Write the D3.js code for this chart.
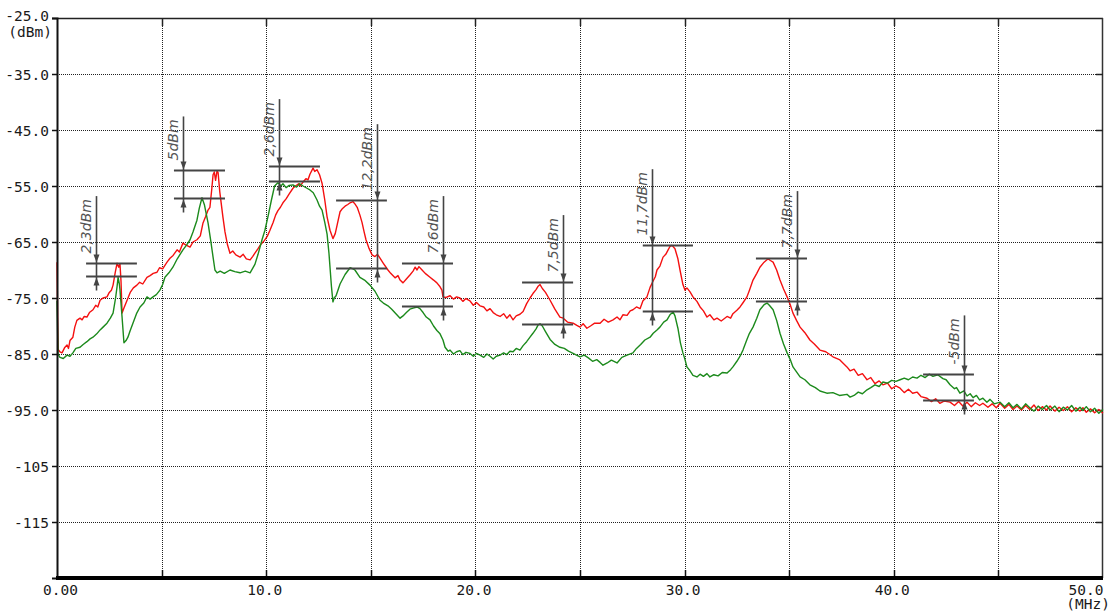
<!DOCTYPE html>
<html>
<head>
<meta charset="utf-8">
<script src="https://cdnjs.cloudflare.com/ajax/libs/d3/7.8.5/d3.min.js"></script>
<style>
  html, body { margin: 0; padding: 0; background: #fff; }
  svg { display: block; }
  .tick text { font-family: "DejaVu Sans Mono", monospace; font-size: 14.5px; fill: #1a1a1a; }
</style>
</head>
<body>
<div id="chart"></div>
<script>
// axis ticks
var yTicks = [-25, -35, -45, -55, -65, -75, -85, -95, -105, -115];
var yTickLabels = ["-25.0", "-35.0", "-45.0", "-55.0", "-65.0", "-75.0", "-85.0", "-95.0", "-105", "-115"];
var xTicks = [0, 10, 20, 30, 40, 50];
var xTickLabels = ["0.00", "10.0", "20.0", "30.0", "40.0", "50.0"];
var xGrid = [5, 10, 15, 20, 25, 30, 35, 40, 45];

// red trace [MHz, dBm]
var redTrace = [
  [0, -68.6], [0.05, -84.2], [0.14, -84.6], [0.24, -84.8], [0.36, -83.9], [0.48, -83.4], [0.55, -84.0],
  [0.62, -82.6], [0.76, -82.0], [0.85, -80.2], [0.95, -79.0], [1.10, -78.6], [1.2, -78.9], [1.3, -78.3],
  [1.43, -78.4], [1.55, -77.6], [1.72, -77.1], [1.85, -76.3], [1.95, -76.6], [2.06, -75.4], [2.2, -75.0],
  [2.39, -74.8], [2.5, -74.0], [2.6, -73.6], [2.68, -72.7], [2.78, -70.5], [2.87, -68.8], [2.95, -69.5],
  [3.01, -68.9], [3.06, -72.0], [3.11, -77.7], [3.2, -76.8], [3.35, -75.4], [3.5, -74.0], [3.65, -73.2],
  [3.82, -72.7], [3.95, -72.2], [4.1, -72.5], [4.3, -71.3], [4.45, -71.0], [4.6, -70.6], [4.78, -70.4],
  [4.9, -69.6], [5.05, -69.8], [5.26, -68.6], [5.4, -67.9], [5.55, -67.4], [5.74, -66.4], [5.85, -66.8],
  [6.02, -65.2], [6.15, -65.5], [6.36, -65.9], [6.5, -65.0], [6.69, -64.6], [6.85, -63.9], [6.98, -61.6],
  [7.1, -60.5], [7.22, -59.3], [7.31, -58.8], [7.4, -55.5], [7.46, -53.0], [7.52, -52.5], [7.58, -54.0],
  [7.65, -52.3], [7.7, -52.6], [7.78, -56.0], [7.93, -60.5], [8.03, -63.2], [8.15, -65.5], [8.27, -67.0],
  [8.4, -66.6], [8.55, -67.3], [8.75, -67.7], [8.9, -67.2], [9.05, -68.0], [9.23, -68.2], [9.35, -67.6],
  [9.46, -67.0], [9.61, -66.2], [9.75, -65.4], [9.9, -64.8], [10.05, -64.0], [10.18, -62.9], [10.33, -61.5],
  [10.45, -60.2], [10.56, -59.4], [10.68, -58.8], [10.8, -58.0], [10.95, -57.3], [11.1, -56.4], [11.28, -55.4],
  [11.4, -55.0], [11.55, -54.6], [11.62, -55.0], [11.76, -54.3], [11.9, -53.7], [12.0, -53.9], [12.09, -52.9],
  [12.24, -51.8], [12.32, -52.4], [12.43, -52.1], [12.55, -53.0], [12.67, -54.5], [12.8, -57.5], [12.91, -60.5],
  [13.05, -62.9], [13.19, -64.4], [13.3, -63.5], [13.4, -61.8], [13.53, -59.6], [13.65, -59.0], [13.77, -58.6],
  [13.9, -58.3], [14.01, -58.0], [14.15, -57.8], [14.24, -58.2], [14.35, -58.8], [14.48, -60.2], [14.58, -61.5],
  [14.68, -63.2], [14.77, -64.6], [14.9, -66.0], [15.06, -67.3], [15.2, -67.6], [15.32, -67.2], [15.44, -67.9],
  [15.6, -68.8], [15.82, -70.0], [15.95, -70.6], [16.16, -71.4], [16.3, -71.0], [16.4, -71.8], [16.54, -72.3],
  [16.7, -71.6], [16.87, -70.9], [17.02, -70.2], [17.12, -69.5], [17.21, -70.0], [17.3, -69.4], [17.45, -70.0],
  [17.6, -70.6], [17.83, -71.3], [18.0, -71.8], [18.16, -72.3], [18.31, -73.0], [18.4, -73.6], [18.45, -74.8],
  [18.6, -74.9], [18.79, -74.6], [18.95, -75.2], [19.1, -74.8], [19.26, -75.0], [19.4, -75.6], [19.55, -75.1],
  [19.74, -75.5], [19.9, -76.3], [20.05, -75.8], [20.22, -76.4], [20.4, -76.6], [20.55, -77.3], [20.7, -76.9],
  [20.85, -77.6], [21.0, -78.0], [21.18, -78.3], [21.35, -77.8], [21.5, -78.6], [21.65, -78.0], [21.8, -78.9],
  [21.95, -78.2], [22.13, -77.9], [22.28, -77.4], [22.45, -76.0], [22.61, -75.0], [22.75, -74.2], [22.9, -73.5],
  [23.0, -72.9], [23.09, -72.6], [23.2, -73.3], [23.35, -74.0], [23.57, -75.4], [23.8, -77.0], [24.04, -78.4],
  [24.2, -78.6], [24.4, -79.3], [24.67, -79.5], [24.85, -79.9], [25.0, -80.2], [25.15, -79.6], [25.33, -80.4],
  [25.5, -80.0], [25.7, -79.5], [25.96, -79.5], [26.15, -78.8], [26.35, -79.3], [26.58, -78.9], [26.77, -78.4],
  [26.91, -78.9], [27.05, -78.0], [27.25, -78.1], [27.4, -77.3], [27.53, -77.1], [27.7, -76.6], [27.87, -76.9],
  [28.01, -75.5], [28.2, -74.8], [28.35, -73.1], [28.49, -72.0], [28.6, -71.2], [28.68, -70.0], [28.82, -69.3],
  [28.97, -67.7], [29.1, -67.2], [29.2, -66.5], [29.3, -65.8], [29.4, -65.6], [29.54, -66.2], [29.68, -68.0],
  [29.78, -70.0], [29.92, -72.6], [30.02, -73.6], [30.11, -73.2], [30.26, -73.9], [30.4, -74.8], [30.59, -75.6],
  [30.74, -76.6], [30.9, -77.3], [31.07, -78.4], [31.21, -78.0], [31.4, -78.9], [31.55, -78.6], [31.75, -79.1],
  [32.03, -78.3], [32.2, -78.6], [32.31, -77.8], [32.5, -77.2], [32.65, -76.6], [32.8, -75.8], [32.98, -74.8],
  [33.1, -73.6], [33.27, -71.8], [33.45, -70.6], [33.6, -69.5], [33.8, -68.6], [33.99, -68.0], [34.1, -68.3],
  [34.23, -68.6], [34.4, -70.0], [34.56, -71.8], [34.73, -73.4], [34.9, -74.8], [35.05, -76.2], [35.18, -77.7],
  [35.35, -79.0], [35.52, -80.2], [35.75, -81.2], [35.99, -82.5], [36.2, -83.2], [36.47, -84.3], [36.75, -84.6],
  [37.09, -85.5], [37.4, -86.0], [37.76, -87.3], [37.91, -88.0], [38.1, -87.7], [38.3, -88.8], [38.5, -88.5],
  [38.72, -89.6], [38.9, -89.2], [39.1, -90.3], [39.3, -89.8], [39.48, -90.5], [39.7, -90.2], [39.9, -91.2],
  [40.1, -90.7], [40.3, -91.1], [40.5, -91.9], [40.7, -91.3], [40.9, -92.0], [41.11, -91.8], [41.3, -92.6],
  [41.59, -92.9], [41.8, -93.5], [42.0, -93.0], [42.2, -93.8], [42.4, -93.4], [42.69, -93.6], [42.9, -94.2],
  [43.1, -93.5], [43.3, -94.3], [43.5, -93.6], [43.7, -94.4], [43.9, -93.7], [44.1, -94.2], [44.26, -93.8],
  [44.5, -94.5], [44.7, -93.9], [44.9, -94.6], [45.08, -93.8], [45.3, -94.7], [45.5, -94.0], [45.7, -94.9],
  [45.89, -94.3], [46.1, -95.0], [46.3, -94.2], [46.5, -94.9], [46.7, -94.1], [46.9, -95.1], [47.1, -94.4],
  [47.3, -95.0], [47.47, -94.3], [47.7, -95.2], [47.9, -94.5], [48.1, -95.1], [48.3, -94.4], [48.5, -95.3],
  [48.7, -94.6], [48.9, -95.2], [49.04, -94.6], [49.2, -95.4], [49.4, -94.8], [49.6, -95.5], [49.8, -94.9],
  [50.0, -95.6]
];

// green trace [MHz, dBm]
var greenTrace = [
  [0, -75.5], [0.05, -85.0], [0.14, -85.6], [0.3, -85.8], [0.48, -85.2], [0.62, -85.4], [0.76, -84.8],
  [0.9, -84.0], [1.10, -83.8], [1.25, -83.3], [1.43, -82.8], [1.58, -82.3], [1.72, -82.0], [1.9, -81.4],
  [2.06, -80.7], [2.2, -80.2], [2.39, -79.5], [2.55, -78.6], [2.68, -77.7], [2.8, -75.0], [2.87, -73.0],
  [2.92, -71.3], [2.98, -72.5], [3.01, -73.5], [3.11, -78.4], [3.2, -83.0], [3.3, -82.6], [3.39, -82.0],
  [3.5, -80.8], [3.63, -79.5], [3.8, -77.8], [3.97, -76.6], [4.15, -75.9], [4.30, -74.8], [4.45, -75.2],
  [4.59, -74.8], [4.75, -74.4], [4.92, -73.6], [5.05, -72.6], [5.16, -71.3], [5.35, -70.5], [5.54, -69.5],
  [5.75, -68.0], [6.02, -66.4], [6.2, -65.5], [6.36, -64.6], [6.5, -63.2], [6.69, -61.1], [6.8, -59.0],
  [6.93, -57.1], [7.05, -58.4], [7.22, -61.6], [7.35, -64.8], [7.46, -67.7], [7.55, -70.0], [7.65, -70.5],
  [7.8, -70.2], [8.0, -70.6], [8.27, -70.0], [8.5, -70.3], [8.75, -70.5], [9.0, -70.2], [9.23, -70.5],
  [9.46, -69.0], [9.61, -67.2], [9.8, -64.6], [9.94, -62.9], [10.1, -60.2], [10.25, -57.5], [10.4, -55.0],
  [10.56, -54.4], [10.7, -55.0], [10.8, -54.6], [10.95, -55.3], [11.1, -54.9], [11.28, -54.8], [11.45, -55.2],
  [11.6, -54.6], [11.76, -55.0], [11.95, -55.4], [12.09, -55.7], [12.25, -56.2], [12.43, -57.5], [12.55, -58.6],
  [12.67, -59.3], [12.8, -61.5], [12.91, -63.6], [13.0, -67.0], [13.05, -69.5], [13.12, -73.0], [13.19, -75.7],
  [13.25, -75.0], [13.34, -74.6], [13.53, -72.5], [13.77, -70.8], [14.01, -69.6], [14.15, -69.8], [14.24, -70.0],
  [14.48, -71.3], [14.7, -71.8], [14.96, -72.7], [15.2, -73.8], [15.44, -75.4], [15.6, -75.9], [15.82, -76.4],
  [16.0, -77.0], [16.2, -77.8], [16.4, -78.6], [16.54, -78.2], [16.7, -77.6], [16.87, -77.0], [17.02, -76.8],
  [17.21, -76.6], [17.35, -76.9], [17.5, -77.6], [17.65, -78.4], [17.83, -78.9], [18.0, -80.0], [18.16, -80.8],
  [18.31, -81.4], [18.45, -82.5], [18.55, -83.8], [18.7, -84.5], [18.79, -84.3], [18.95, -85.0], [19.1, -84.6],
  [19.26, -84.4], [19.4, -85.1], [19.55, -84.7], [19.74, -84.9], [19.9, -85.4], [20.05, -84.9], [20.22, -85.2],
  [20.4, -85.6], [20.55, -85.0], [20.7, -85.4], [20.85, -85.9], [21.0, -85.4], [21.18, -85.2], [21.35, -84.8],
  [21.5, -85.1], [21.65, -84.5], [21.8, -84.6], [21.95, -84.0], [22.13, -84.3], [22.28, -83.5], [22.45, -82.8],
  [22.61, -82.0], [22.75, -81.3], [22.9, -80.5], [23.0, -79.8], [23.09, -79.6], [23.2, -80.0], [23.35, -81.0],
  [23.57, -82.4], [23.8, -83.3], [24.04, -83.8], [24.25, -84.0], [24.45, -84.5], [24.67, -84.9], [25.0, -85.5],
  [25.2, -85.2], [25.4, -85.7], [25.6, -86.3], [25.8, -86.0], [25.96, -86.5], [26.1, -87.0], [26.3, -86.6],
  [26.5, -86.1], [26.77, -86.6], [27.0, -85.6], [27.25, -85.2], [27.53, -84.8], [27.7, -84.0], [27.9, -83.3],
  [28.1, -82.5], [28.35, -82.0], [28.5, -81.3], [28.68, -80.7], [28.82, -80.2], [29.0, -79.3], [29.16, -78.9],
  [29.3, -78.0], [29.45, -77.5], [29.54, -78.2], [29.68, -80.4], [29.8, -83.0], [29.92, -84.8], [30.02, -86.0],
  [30.11, -87.3], [30.26, -88.0], [30.4, -88.8], [30.59, -89.1], [30.74, -88.6], [30.9, -89.0], [31.07, -88.5],
  [31.21, -89.1], [31.4, -88.7], [31.6, -88.9], [31.8, -88.3], [32.03, -88.4], [32.2, -87.8], [32.31, -87.3],
  [32.5, -86.3], [32.65, -85.4], [32.79, -84.3], [32.98, -82.4], [33.1, -81.3], [33.27, -80.2], [33.45, -78.6],
  [33.6, -77.1], [33.8, -76.2], [33.94, -75.9], [34.05, -76.3], [34.23, -77.1], [34.4, -79.0], [34.56, -81.3],
  [34.73, -83.2], [34.9, -84.8], [35.05, -86.0], [35.18, -87.3], [35.35, -88.2], [35.52, -89.1], [35.75, -89.6],
  [35.99, -90.5], [36.25, -91.0], [36.47, -91.6], [36.8, -92.0], [37.09, -91.9], [37.4, -92.4], [37.76, -92.2],
  [37.91, -92.7], [38.1, -92.4], [38.3, -91.8], [38.5, -92.1], [38.72, -91.4], [38.9, -91.0], [39.1, -90.5],
  [39.3, -90.8], [39.48, -90.0], [39.7, -90.2], [39.9, -89.7], [40.1, -89.9], [40.3, -89.6], [40.5, -89.3],
  [40.7, -89.6], [40.9, -89.1], [41.11, -89.3], [41.3, -88.8], [41.5, -89.2], [41.7, -88.6], [41.87, -89.0],
  [42.1, -88.7], [42.35, -89.4], [42.5, -89.6], [42.69, -90.5], [42.9, -91.2], [43.0, -91.0], [43.16, -92.0],
  [43.35, -91.6], [43.5, -92.5], [43.65, -92.1], [43.79, -92.8], [43.95, -92.4], [44.1, -93.2], [44.26, -92.9],
  [44.45, -93.6], [44.6, -93.1], [44.8, -93.9], [45.08, -93.6], [45.3, -94.4], [45.5, -93.7], [45.7, -94.6],
  [45.89, -94.0], [46.1, -94.8], [46.3, -93.9], [46.5, -94.6], [46.7, -95.2], [46.9, -94.3], [47.1, -94.9],
  [47.3, -94.2], [47.47, -95.0], [47.7, -94.3], [47.9, -95.3], [48.1, -94.5], [48.3, -95.0], [48.5, -94.2],
  [48.7, -95.2], [48.9, -94.5], [49.04, -95.1], [49.2, -94.4], [49.4, -95.3], [49.6, -94.7], [49.8, -95.6],
  [50.0, -94.9]
];

// level difference markers
var markLabels = ["2,3dBm", "5dBm", "2,6dBm", "12,2dBm", "7,6dBm", "7,5dBm", "11,7dBm", "7,7dBm", "-5dBm"];
var markFreq = [1.86, 6.02, 10.61, 15.3, 18.45, 24.19, 28.44, 35.37, 43.36];
var markFrom = [1.39, 5.59, 10.13, 13.34, 16.49, 22.23, 28.0, 33.41, 41.4];
var markTo = [3.82, 8.03, 12.57, 15.77, 18.93, 24.67, 30.4, 35.85, 43.83];
var markTop = [-68.7, -52.2, -51.5, -57.5, -68.7, -72.2, -65.6, -67.9, -88.6];
var markBottom = [-71.0, -57.2, -54.1, -69.7, -76.4, -79.7, -77.3, -75.6, -93.2];

var width = 1111, height = 613;
var plotL = 57, plotT = 18, plotR = 1103, plotB = 578;

var svg = d3.select("#chart").append("svg")
  .attr("width", width)
  .attr("height", height);

var x = d3.scaleLinear().domain([0, 50]).range([plotL, plotR]);
var y = d3.scaleLinear().domain([-125, -25]).range([plotB, plotT]);

// dotted grid
svg.append("g").selectAll("line").data(xGrid).enter().append("line")
  .attr("x1", function(d) { return Math.round(x(d)) + 0.5; })
  .attr("x2", function(d) { return Math.round(x(d)) + 0.5; })
  .attr("y1", plotT).attr("y2", plotB)
  .attr("stroke", "#222").attr("stroke-width", 1).attr("stroke-dasharray", "1,1");
svg.append("g").selectAll("line").data(yTicks.slice(1)).enter().append("line")
  .attr("x1", plotL).attr("x2", plotR)
  .attr("y1", function(d) { return Math.round(y(d)) + 0.5; })
  .attr("y2", function(d) { return Math.round(y(d)) + 0.5; })
  .attr("stroke", "#222").attr("stroke-width", 1).attr("stroke-dasharray", "1,1");

// frame
svg.append("line").attr("x1", plotL).attr("x2", plotR).attr("y1", plotT + 0.5).attr("y2", plotT + 0.5)
  .attr("stroke", "#222").attr("stroke-width", 1.5);
svg.append("line").attr("x1", plotR - 0.5).attr("x2", plotR - 0.5).attr("y1", plotT).attr("y2", plotB)
  .attr("stroke", "#333").attr("stroke-width", 1.5);

// small ticks on top and right edges
svg.append("g").selectAll("line").data(xGrid).enter().append("line")
  .attr("x1", function(d) { return Math.round(x(d)) + 0.5; })
  .attr("x2", function(d) { return Math.round(x(d)) + 0.5; })
  .attr("y1", plotT).attr("y2", plotT + 8)
  .attr("stroke", "#222").attr("stroke-width", 1.5);
svg.append("g").selectAll("line").data(yTicks.slice(1)).enter().append("line")
  .attr("x1", plotR - 7).attr("x2", plotR)
  .attr("y1", function(d) { return Math.round(y(d)) + 0.5; })
  .attr("y2", function(d) { return Math.round(y(d)) + 0.5; })
  .attr("stroke", "#222").attr("stroke-width", 1.5);

// traces
var line = d3.line()
  .x(function(d) { return x(d[0]); })
  .y(function(d) { return y(d[1]); });

svg.append("path").datum(redTrace)
  .attr("d", line).attr("fill", "none")
  .attr("stroke", "#f41010").attr("stroke-width", 1.4).attr("stroke-linejoin", "round");
svg.append("path").datum(greenTrace)
  .attr("d", line).attr("fill", "none")
  .attr("stroke", "#1c8a1c").attr("stroke-width", 1.4).attr("stroke-linejoin", "round");

// y axis
var yAxis = d3.axisLeft(y)
  .tickValues(yTicks)
  .tickSize(5)
  .tickPadding(3)
  .tickFormat(function(d, i) { return yTickLabels[i]; });
var gy = svg.append("g").attr("transform", "translate(" + plotL + ",0)").call(yAxis);
gy.select(".domain").attr("stroke", "#111").attr("stroke-width", 2);
gy.selectAll(".tick line").attr("stroke", "#111").attr("stroke-width", 1.5);
gy.selectAll(".tick text").attr("dy", "0.36em");
gy.selectAll(".tick").filter(function(d) { return d === -25; }).select("text").attr("dy", "0.2em");
svg.append("text")
  .attr("x", plotL - 5).attr("y", plotT + 19)
  .attr("text-anchor", "end")
  .style("font-family", "DejaVu Sans Mono, monospace").style("font-size", "14.5px").style("fill", "#1a1a1a")
  .text("(dBm)");

// x axis
var xAxis = d3.axisBottom(x)
  .tickValues(xTicks)
  .tickSize(0)
  .tickPadding(7)
  .tickFormat(function(d, i) { return xTickLabels[i]; });
var gx = svg.append("g").attr("transform", "translate(0," + plotB + ")").call(xAxis);
gx.select(".domain").remove();
gx.selectAll(".tick text").attr("dx", function(d) { return d === 0 ? 3 : -2; });
gx.selectAll(".tick").filter(function(d) { return d === 50; }).select("text")
  .attr("text-anchor", "end").attr("dx", 0);
svg.append("text")
  .attr("x", plotR + 7).attr("y", plotB + 31)
  .attr("text-anchor", "end")
  .style("font-family", "DejaVu Sans Mono, monospace").style("font-size", "14.5px").style("fill", "#1a1a1a")
  .text("(MHz)");

// bottom ticks and thick base line
svg.append("g").selectAll("line").data(xGrid).enter().append("line")
  .attr("x1", function(d) { return Math.round(x(d)) + 0.5; })
  .attr("x2", function(d) { return Math.round(x(d)) + 0.5; })
  .attr("y1", plotB).attr("y2", plotB - 8)
  .attr("stroke", "#111").attr("stroke-width", 1.5);
svg.append("line").attr("x1", plotL - 1).attr("x2", plotR).attr("y1", plotB).attr("y2", plotB)
  .attr("stroke", "#000").attr("stroke-width", 4);

// markers
var markColor = "#444";
var marks = svg.append("g");
markLabels.forEach(function(label, i) {
  var ax = Math.round(x(markFreq[i])) + 0.5;
  var yt = Math.round(y(markTop[i])) + 0.5;
  var yb = Math.round(y(markBottom[i])) + 0.5;

  marks.append("line").attr("x1", x(markFrom[i])).attr("x2", x(markTo[i]))
    .attr("y1", yt).attr("y2", yt).attr("stroke", markColor).attr("stroke-width", 2);
  marks.append("line").attr("x1", x(markFrom[i])).attr("x2", x(markTo[i]))
    .attr("y1", yb).attr("y2", yb).attr("stroke", markColor).attr("stroke-width", 2);

  var t = marks.append("text")
    .attr("transform", "translate(" + (ax - 6) + "," + (yt - 10) + ") rotate(-90)")
    .attr("text-anchor", "start")
    .style("font-family", "DejaVu Sans, sans-serif")
    .style("font-style", "italic")
    .style("font-size", "14px")
    .style("fill", "#555")
    .text(label);
  var len = t.node().getComputedTextLength();

  var lineTop = yt - 10 - len - 3;
  marks.append("line").attr("x1", ax).attr("x2", ax)
    .attr("y1", lineTop).attr("y2", yb + 14)
    .attr("stroke", markColor).attr("stroke-width", 1.6);
  marks.append("path")
    .attr("d", "M" + (ax - 3) + "," + (yt - 9) + "L" + (ax + 3) + "," + (yt - 9) + "L" + ax + "," + (yt - 1) + "Z")
    .attr("fill", markColor);
  marks.append("path")
    .attr("d", "M" + (ax - 3) + "," + (yb + 9) + "L" + (ax + 3) + "," + (yb + 9) + "L" + ax + "," + (yb + 1) + "Z")
    .attr("fill", markColor);
});
</script>
</body>
</html>
